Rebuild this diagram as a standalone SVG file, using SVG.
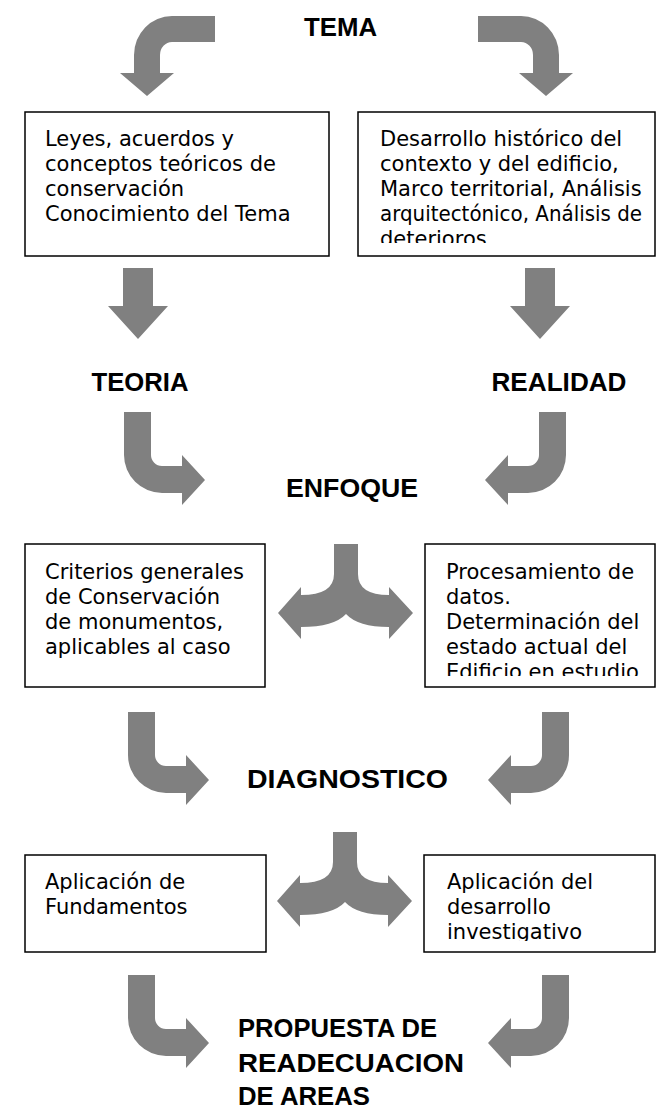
<svg xmlns="http://www.w3.org/2000/svg" width="669" height="1111" viewBox="0 0 669 1111">
<style>
.arrow{fill:#808080;stroke:none}
.box{fill:#fff;stroke:#000;stroke-width:1.5}
.body{font-family:"DejaVu Sans","Liberation Sans",sans-serif;font-size:21px;fill:#000}
.title{font-family:"Liberation Sans","Arial",sans-serif;font-weight:bold;font-size:26px;fill:#000}
.mid{text-anchor:middle}
</style>
<defs>
<path id="split" d="M0,0 L24,0 L24,30 Q24,51 55,51 L55,43 L79,69 L55,95 L55,83 Q24,83 12,70 Q0,83 -33,83 L-33,95 L-56,69 L-33,43 L-33,51 Q0,51 0,30 Z"/>
<path id="curveL" d="M124,412 L151,412 L151,455 A11,11 0 0 0 162,466 L182,466 L182,455 L205,480 L182,505 L182,493 L162,493 A38,38 0 0 1 124,455 Z"/>
<path id="curveR" d="M566,412 L539,412 L539,455 A11,11 0 0 1 528,466 L508,466 L508,455 L485,480 L508,505 L508,493 L528,493 A38,38 0 0 0 566,455 Z"/>
<clipPath id="clip1"><rect x="358" y="112" width="297" height="131"/></clipPath>
<clipPath id="clip3"><rect x="425" y="544" width="230" height="132"/></clipPath>
<clipPath id="clip4"><rect x="424" y="855" width="231" height="86"/></clipPath>
</defs>

<g id="connectors">
<path class="arrow" d="M215,16 L172,16 A38,39 0 0 0 134,55 L134,73 L120,73 L147,96 L174,73 L160,73 L160,55 A12,13 0 0 1 172,42 L215,42 Z"/>
<path class="arrow" d="M478,16 L521,16 A38,39 0 0 1 559,55 L559,73 L573,73 L546,96 L519,73 L533,73 L533,55 A12,13 0 0 0 521,42 L478,42 Z"/>
<path class="arrow" d="M123,268 L153,268 L153,306 L168,306 L138,339 L108,306 L123,306 Z"/>
<path class="arrow" d="M525,268 L555,268 L555,306 L570,306 L540,339 L510,306 L525,306 Z"/>
<use href="#curveL" class="arrow"/>
<use href="#curveR" class="arrow"/>
<use href="#split" class="arrow" transform="translate(334,544)"/>
<use href="#curveL" class="arrow" transform="translate(4,300)"/>
<use href="#curveR" class="arrow" transform="translate(3,300)"/>
<use href="#split" class="arrow" transform="translate(333,832)"/>
<use href="#curveL" class="arrow" transform="translate(4,563)"/>
<use href="#curveR" class="arrow" transform="translate(3,563)"/>
</g>

<g id="tema"><text class="title mid" x="340.5" y="36" textLength="73" lengthAdjust="spacingAndGlyphs">TEMA</text></g>

<g id="box-leyes">
<rect class="box" x="25" y="112" width="304" height="144"/>
<text class="body" x="45" y="146">Leyes, acuerdos y</text>
<text class="body" x="45" y="171">conceptos teóricos de</text>
<text class="body" x="45" y="196">conservación</text>
<text class="body" x="45" y="221">Conocimiento del Tema</text>
</g>

<g id="box-desarrollo">
<rect class="box" x="358" y="112" width="297" height="144"/>
<g clip-path="url(#clip1)">
<text class="body" x="380" y="146">Desarrollo histórico del</text>
<text class="body" x="380" y="171">contexto y del edificio,</text>
<text class="body" x="380" y="196">Marco territorial, Análisis</text>
<text class="body" x="380" y="221" textLength="262" lengthAdjust="spacingAndGlyphs">arquitectónico, Análisis de</text>
<text class="body" x="380" y="246">deterioros</text>
</g>
</g>

<g id="teoria"><text class="title mid" x="140" y="391" textLength="97" lengthAdjust="spacingAndGlyphs">TEORIA</text></g>
<g id="realidad"><text class="title mid" x="559" y="391" textLength="135" lengthAdjust="spacingAndGlyphs">REALIDAD</text></g>
<g id="enfoque"><text class="title mid" x="352" y="497" textLength="132" lengthAdjust="spacingAndGlyphs">ENFOQUE</text></g>

<g id="box-criterios">
<rect class="box" x="25" y="544" width="240" height="143"/>
<text class="body" x="45" y="579">Criterios generales</text>
<text class="body" x="45" y="604">de Conservación</text>
<text class="body" x="45" y="629">de monumentos,</text>
<text class="body" x="45" y="654">aplicables al caso</text>
</g>

<g id="box-procesamiento">
<rect class="box" x="425" y="544" width="230" height="143"/>
<g clip-path="url(#clip3)">
<text class="body" x="446" y="579">Procesamiento de</text>
<text class="body" x="446" y="604">datos.</text>
<text class="body" x="446" y="629">Determinación del</text>
<text class="body" x="446" y="654">estado actual del</text>
<text class="body" x="446" y="679">Edificio en estudio</text>
</g>
</g>

<g id="diagnostico"><text class="title mid" x="347.5" y="788" textLength="201" lengthAdjust="spacingAndGlyphs">DIAGNOSTICO</text></g>

<g id="box-fundamentos">
<rect class="box" x="25" y="855" width="241" height="97"/>
<text class="body" x="45" y="889">Aplicación de</text>
<text class="body" x="45" y="914">Fundamentos</text>
</g>

<g id="box-investigativo">
<rect class="box" x="424" y="855" width="231" height="97"/>
<g clip-path="url(#clip4)">
<text class="body" x="447" y="889">Aplicación del</text>
<text class="body" x="447" y="914">desarrollo</text>
<text class="body" x="447" y="939">investigativo</text>
</g>
</g>

<g id="propuesta">
<text class="title" x="238" y="1037" textLength="199" lengthAdjust="spacingAndGlyphs">PROPUESTA DE</text>
<text class="title" x="238" y="1072" textLength="226" lengthAdjust="spacingAndGlyphs">READECUACION</text>
<text class="title" x="238" y="1105" textLength="132" lengthAdjust="spacingAndGlyphs">DE AREAS</text>
</g>
</svg>
